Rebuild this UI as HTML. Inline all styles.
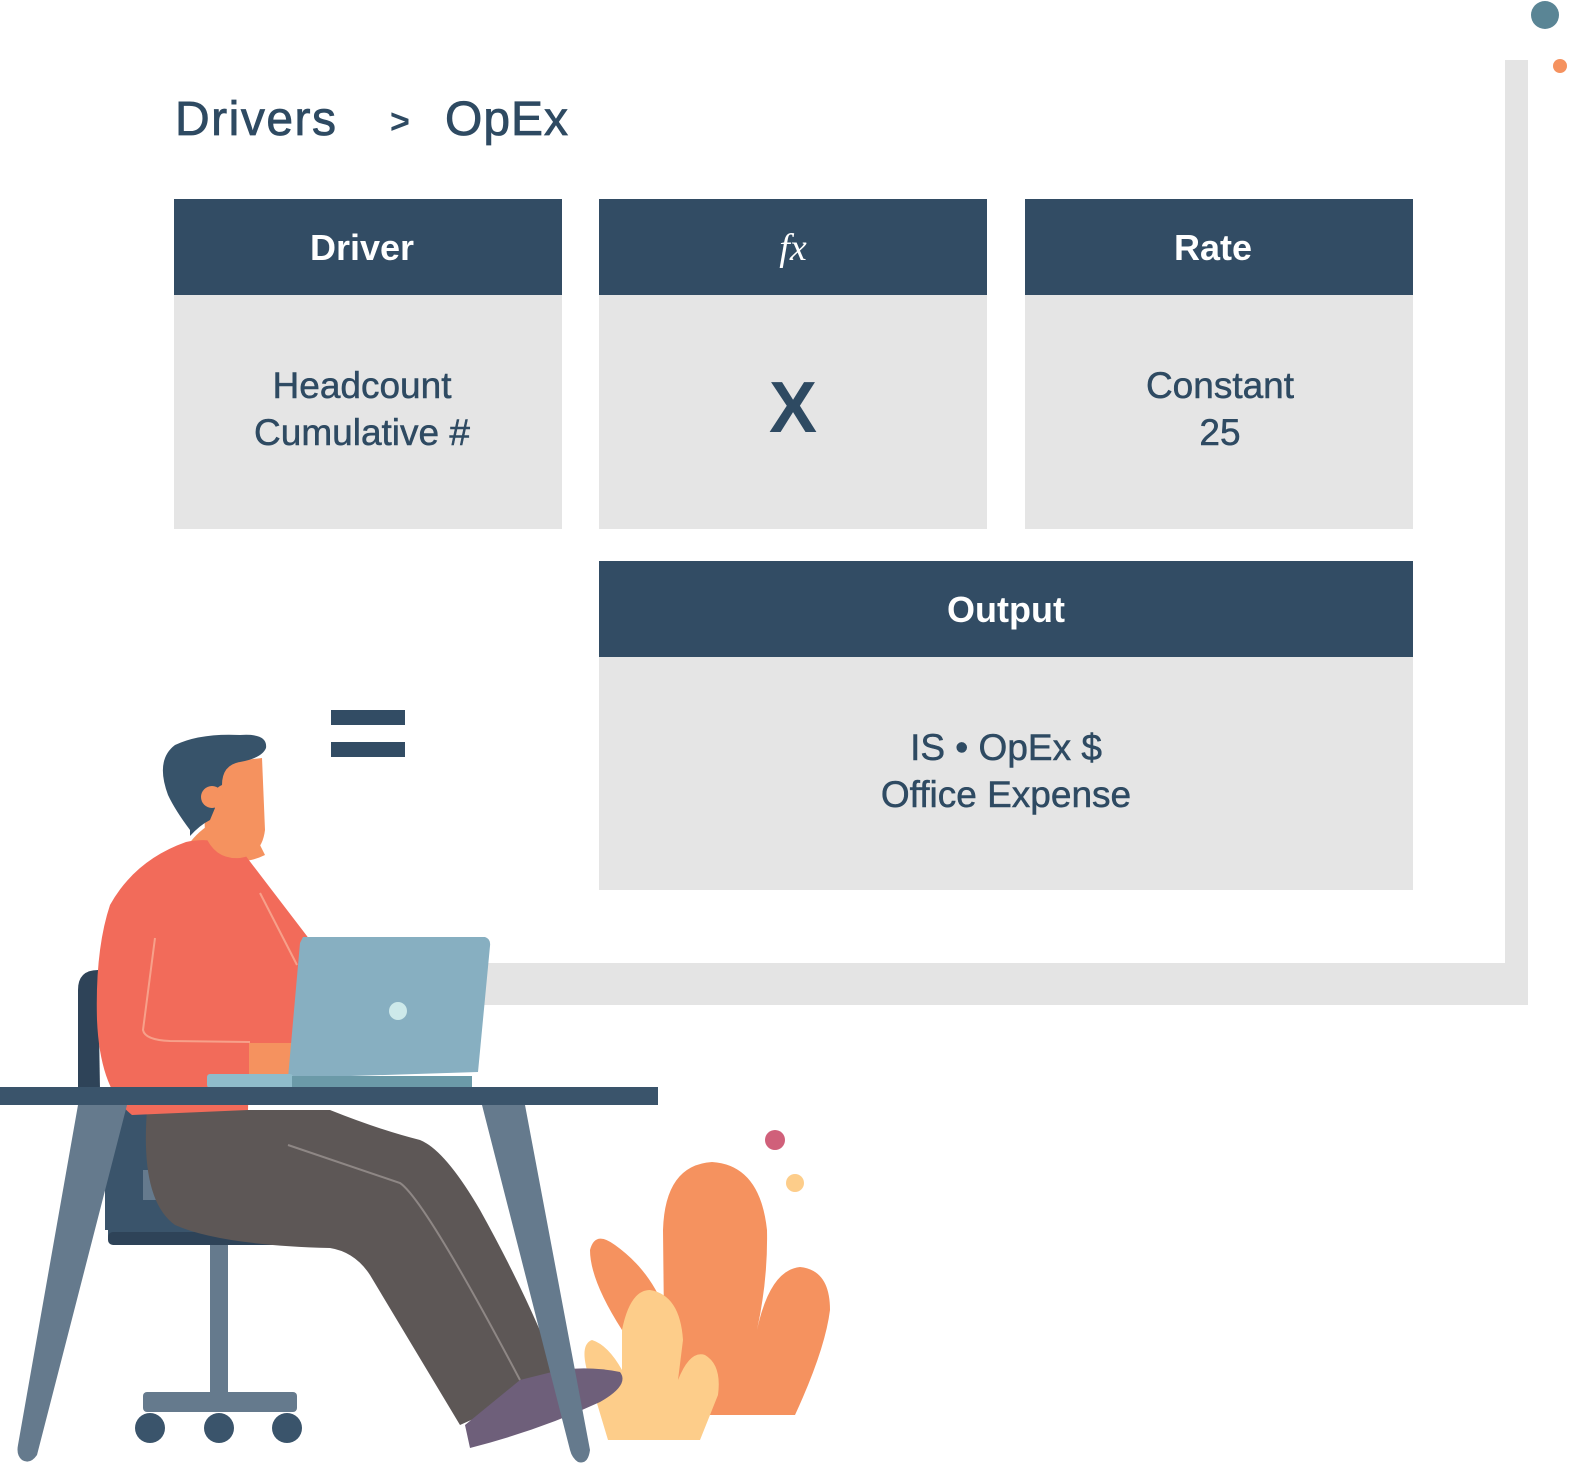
<!DOCTYPE html>
<html><head><meta charset="utf-8"><style>
html,body{margin:0;padding:0;background:#fff;}
svg{display:block;}
</style></head><body>
<svg width="1571" height="1466" viewBox="0 0 1571 1466" xmlns="http://www.w3.org/2000/svg" font-family="Liberation Sans, sans-serif">
<rect x="1505" y="60" width="23" height="945" fill="#e4e4e4"/>
<rect x="460" y="963" width="1068" height="42" fill="#e4e4e4"/>
<circle cx="1545" cy="15" r="14" fill="#5a8595"/>
<circle cx="1560" cy="66" r="7" fill="#f5925f"/>
<text x="175" y="135" font-size="48" fill="#2e4a62" letter-spacing="1.5" stroke="#2e4a62" stroke-width="0.8">Drivers</text>
<text x="390" y="133" font-size="34" fill="#2e4a62" font-weight="bold">&gt;</text>
<text x="445" y="135" font-size="48" fill="#2e4a62" letter-spacing="1" stroke="#2e4a62" stroke-width="0.8">OpEx</text>
<g fill="#e5e5e5">
<rect x="174" y="295" width="388" height="234"/>
<rect x="599" y="295" width="388" height="234"/>
<rect x="1025" y="295" width="388" height="234"/>
<rect x="599" y="657" width="814" height="233"/>
</g>
<g fill="#324c64">
<rect x="174" y="199" width="388" height="96"/>
<rect x="599" y="199" width="388" height="96"/>
<rect x="1025" y="199" width="388" height="96"/>
<rect x="599" y="561" width="814" height="96"/>
</g>
<g fill="#fff" font-weight="bold" font-size="36" text-anchor="middle">
<text x="362" y="260">Driver</text>
<text x="1213" y="260">Rate</text>
<text x="1006" y="622">Output</text>
</g>
<text x="793" y="260" fill="#fff" font-size="38" font-style="italic" font-family="Liberation Serif, serif" text-anchor="middle">fx</text>
<g fill="#2e4a62" font-size="37" text-anchor="middle" stroke="#2e4a62" stroke-width="0.5">
<text x="362" y="398">Headcount</text>
<text x="362" y="445">Cumulative #</text>
<text x="1220" y="398">Constant</text>
<text x="1220" y="445">25</text>
<text x="1006" y="760">IS • OpEx $</text>
<text x="1006" y="807">Office Expense</text>
</g>
<text x="793" y="432" fill="#2e4a62" font-size="72" font-weight="bold" text-anchor="middle">X</text>
<rect x="331" y="710" width="74" height="15" fill="#324c64"/>
<rect x="331" y="742" width="74" height="15" fill="#324c64"/>
<path d="M78,990 Q78,970 98,970 L100,1090 L78,1090 Z" fill="#2e4358"/>
<rect x="105" y="1100" width="60" height="130" fill="#3a546b"/>
<rect x="143" y="1170" width="25" height="40" fill="#657a8d"/>
<rect x="108" y="1200" width="220" height="45" rx="8" fill="#3a546b"/>
<rect x="108" y="1232" width="220" height="13" rx="5" fill="#2e4358"/>
<rect x="210" y="1245" width="18" height="150" fill="#657a8d"/>
<rect x="143" y="1392" width="154" height="20" rx="4" fill="#657a8d"/>
<circle cx="150" cy="1428" r="15" fill="#3a546b"/>
<circle cx="219" cy="1428" r="15" fill="#3a546b"/>
<circle cx="287" cy="1428" r="15" fill="#3a546b"/>
<circle cx="775" cy="1140" r="10" fill="#d0607a"/>
<circle cx="795" cy="1183" r="9" fill="#fdcd8a"/>
<path d="M665,1415 L663,1230 Q665,1165 712,1162 Q760,1165 767,1230 Q768,1280 757,1330 Q770,1270 800,1267 Q830,1270 830,1310 Q825,1350 795,1415 Z" fill="#f5925f"/>
<path d="M622,1330 Q590,1280 590,1250 Q595,1230 615,1245 Q650,1270 665,1310 L665,1400 Z" fill="#f5925f"/>
<path d="M608,1440 L590,1380 Q578,1345 592,1340 Q608,1345 622,1370 L622,1330 Q630,1290 650,1290 Q680,1295 683,1340 L678,1380 Q690,1350 705,1355 Q722,1365 718,1395 L700,1440 Z" fill="#fdcd8a"/>
<path d="M147,1110 Q140,1200 175,1225 Q220,1245 330,1248 Q355,1252 370,1275 L460,1425 L560,1380 Q530,1300 480,1210 Q445,1150 420,1140 Q380,1130 330,1110 Z" fill="#5d5756"/>
<path d="M288,1145 L400,1183 Q425,1200 520,1380" stroke="#8e8785" stroke-width="2" fill="none"/>
<path d="M465,1425 L470,1448 Q540,1430 600,1402 Q630,1385 620,1372 Q590,1366 560,1370 L520,1380 Z" fill="#6e5f7a"/>
<path d="M188,845 Q210,815 245,815 L265,855 Q245,865 225,858 Z" fill="#f5925f"/>
<path d="M186,842 Q220,835 245,855 L310,940 L300,1050 L250,1045 L248,1110 L132,1115 Q100,1090 97,1020 Q95,950 110,905 Q135,860 186,842 Z" fill="#f26b5a"/>
<path d="M155,938 L143,1030 Q145,1040 170,1041 L250,1042" stroke="#f7a08a" stroke-width="2" fill="none"/>
<path d="M260,893 L297,965" stroke="#f7a08a" stroke-width="2" fill="none"/>
<rect x="249" y="1043" width="45" height="33" fill="#f5925f"/>
<path d="M203,770 Q225,762 262,758 L265,830 Q262,855 240,858 Q215,860 205,835 Z" fill="#f5925f"/>
<path d="M190,830 Q175,810 168,795 Q155,760 175,745 Q200,733 240,735 Q268,733 266,748 Q262,758 240,762 Q222,765 222,785 Q210,790 215,808 L210,820 Q200,825 190,836 Z" fill="#37536a"/>
<circle cx="212" cy="797" r="11" fill="#f5925f"/>
<path d="M303,937 L485,937 Q491,939 490,946 L478,1072 L288,1078 L300,943 Z" fill="#87afc1"/>
<circle cx="398" cy="1011" r="9" fill="#cde9ea"/>
<rect x="207" y="1074" width="86" height="14" rx="3" fill="#8fbccb"/>
<rect x="292" y="1076" width="180" height="12" fill="#6b9aa8"/>
<rect x="0" y="1087" width="658" height="18" fill="#3a546b"/>
<path d="M78,1105 L127,1105 L37,1455 Q30,1465 22,1460 Q16,1455 18,1445 Z" fill="#657a8d"/>
<path d="M482,1105 L525,1105 L590,1450 Q588,1465 578,1462 Q572,1458 570,1450 Z" fill="#657a8d"/>
</svg>
</body></html>
